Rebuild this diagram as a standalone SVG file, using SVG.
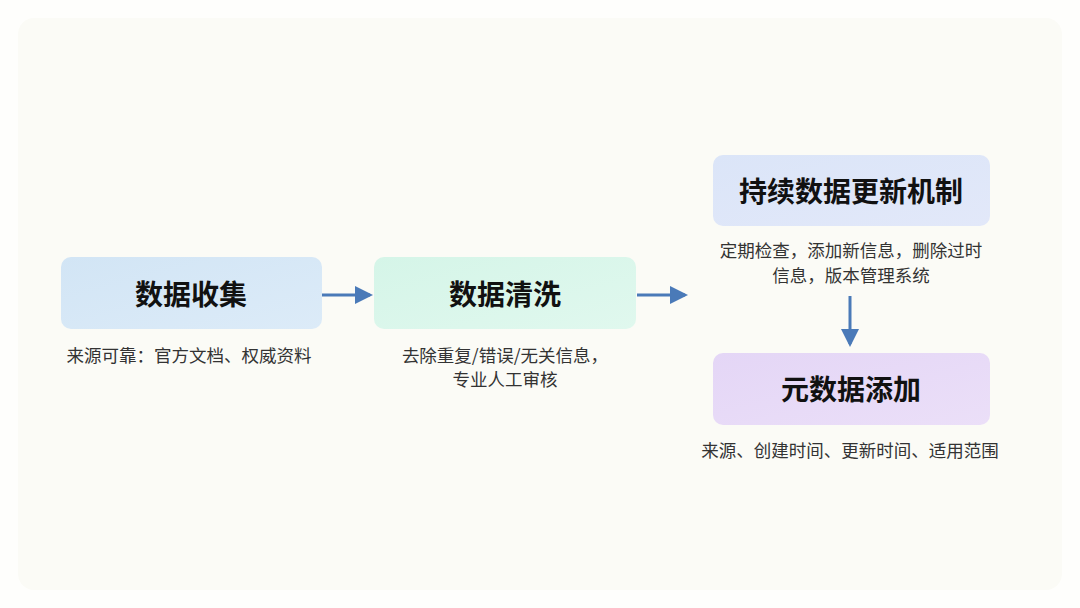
<svg xmlns="http://www.w3.org/2000/svg" width="1080" height="608" viewBox="0 0 1080 608">
<defs>
<style>
.title{font-family:"Noto Sans CJK SC","Noto Sans",sans-serif;font-weight:700;font-size:28px;fill:#111;text-anchor:middle}
.desc{font-family:"Noto Sans CJK SC","Noto Sans",sans-serif;font-size:17.5px;fill:#333;text-anchor:middle}
.conn{stroke:#4a7ab8;stroke-width:3;fill:none}
</style>
<marker id="ah" markerWidth="6" markerHeight="6" refX="5" refY="3" orient="auto" markerUnits="strokeWidth">
<path d="M0,0 L6,3 L0,6 Z" fill="#4a7ab8"/>
</marker>
<linearGradient id="g1" x1="0" y1="0" x2="1" y2="1"><stop offset="0" stop-color="#d2e5f5"/><stop offset="1" stop-color="#dcebf8"/></linearGradient>
<linearGradient id="g2" x1="0" y1="0" x2="1" y2="1"><stop offset="0" stop-color="#d5f5e8"/><stop offset="1" stop-color="#e0f8ee"/></linearGradient>
<linearGradient id="g3" x1="0" y1="0" x2="1" y2="1"><stop offset="0" stop-color="#dbe5f8"/><stop offset="1" stop-color="#e2e8f9"/></linearGradient>
<linearGradient id="g4" x1="0" y1="0" x2="1" y2="1"><stop offset="0" stop-color="#e4d6f6"/><stop offset="1" stop-color="#ebdff8"/></linearGradient>
</defs>
<rect width="1080" height="608" fill="#fefefc"/>
<rect x="18" y="18" width="1044" height="572" rx="16" fill="#fbfbf6"/>
<g id="connectors">
<line class="conn" x1="322" y1="295" x2="370" y2="295" marker-end="url(#ah)"/>
<line class="conn" x1="637" y1="295" x2="685" y2="295" marker-end="url(#ah)"/>
<line class="conn" x1="850" y1="296" x2="850" y2="344" marker-end="url(#ah)"/>
</g>
<g id="node-collect">
<rect x="61" y="257" width="261" height="72" rx="10" fill="url(#g1)"/>
<text class="title" x="191" y="305">数据收集</text>
<text class="desc" x="189" y="362">来源可靠：官方文档、权威资料</text>
</g>
<g id="node-clean">
<rect x="374" y="257" width="262" height="72" rx="10" fill="url(#g2)"/>
<text class="title" x="505" y="305">数据清洗</text>
<text class="desc" x="505" y="362">去除重复/错误/无关信息，</text>
<text class="desc" x="505" y="386">专业人工审核</text>
</g>
<g id="node-update">
<rect x="713" y="155" width="277" height="71" rx="10" fill="url(#g3)"/>
<text class="title" x="851" y="202">持续数据更新机制</text>
<text class="desc" x="851" y="257">定期检查，添加新信息，删除过时</text>
<text class="desc" x="851" y="282">信息，版本管理系统</text>
</g>
<g id="node-meta">
<rect x="713" y="353" width="277" height="72" rx="10" fill="url(#g4)"/>
<text class="title" x="851" y="400">元数据添加</text>
<text class="desc" x="850" y="457">来源、创建时间、更新时间、适用范围</text>
</g>
</svg>
